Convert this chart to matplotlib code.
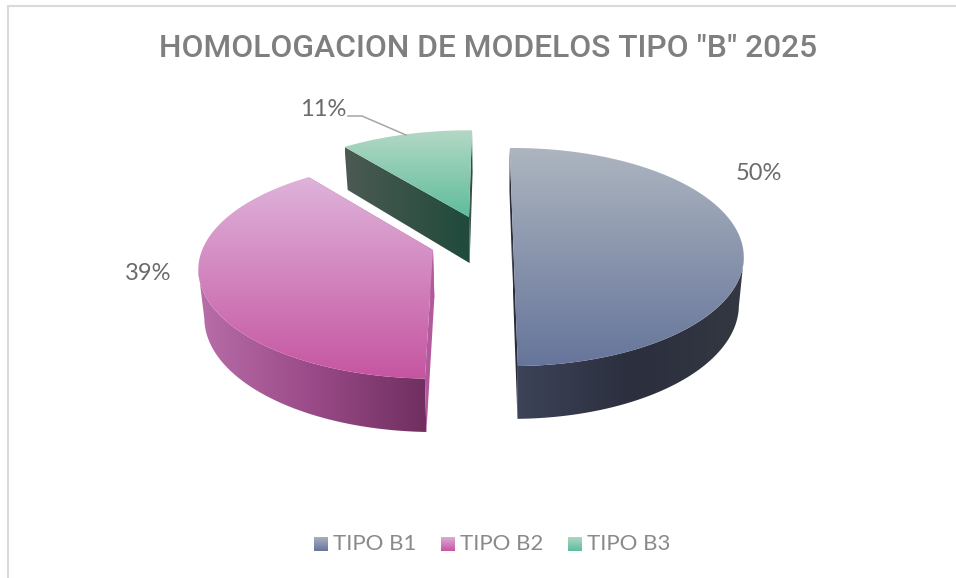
import numpy as np
import matplotlib
matplotlib.use("Agg")
import matplotlib.pyplot as plt
from matplotlib.colors import LinearSegmentedColormap
from matplotlib.patches import Polygon

# ---- data ----
categories = ["TIPO B1", "TIPO B2", "TIPO B3"]
values = [50, 39, 11]
title = 'HOMOLOGACION DE MODELOS TIPO "B" 2025'

# ---- layout / style ----
W, H = 956, 578
TOP_COLORS = [("#adb5c0", "#66759a"), ("#deb3da", "#c655a1"), ("#b4d8c5", "#5ebd9c")]
SIDE_COLORS = [("#3d4358", "#2b2f3e", "#343842"),
               ("#b86ea8", "#9a4a88", "#6f2f5f"),
               ("#4c5a52", "#3a4f47", "#1f4a3b")]
CUT_COLORS = [("#2a2e3b", "#2a2e3b"), ("#b35a9e", "#b35a9e"), ("#4c5a52", "#1f4a3b")]
APEX = [(513, 237.4), (433, 250), (469, 217)]
ROT = [-1.0, 1.65, 0.9]
SCALE = [(1.0, 1.0), (1.017, 1.0), (1.0, 0.97)]
K, A, B = 0.18, 227.0, 105.5
LABEL_POS = [(759, 174), (148, 274), (323, 110)]
LEGEND_X = [314, 441, 568]
GREY = "#7f7f7f"

fig = plt.figure(figsize=(W / 100, H / 100), dpi=100)
ax = fig.add_axes([0, 0, 1, 1])
ax.set_xlim(0, W)
ax.set_ylim(H, 0)
ax.set_autoscale_on(False)
ax.axis("off")


def project(theta, i):
    t = np.radians(theta)
    u, v = np.sin(t), np.cos(t)
    w = 1 + K * v
    ax0, ay0 = APEX[i]
    return np.column_stack((ax0 + A * SCALE[i][0] * u / w,
                            ay0 - B * SCALE[i][1] * v / w))


def lower(p):
    p = np.atleast_2d(p)
    return np.column_stack((500 + (p[:, 0] - 500) * 0.98,
                            p[:, 1] + 43 + (p[:, 1] - 148) * 0.045))


def fill(points, colors, vertical):
    points = np.asarray(points)
    x0, y0 = points.min(axis=0)
    x1, y1 = points.max(axis=0)
    ramp = np.linspace(0, 1, 256)
    grad = ramp[:, None] if vertical else ramp[None, :]
    cmap = LinearSegmentedColormap.from_list("g", list(colors))
    im = ax.imshow(grad, cmap=cmap, vmin=0, vmax=1, aspect="auto",
                   extent=(x0, x1 + 0.01, y1 + 0.01, y0), interpolation="bilinear",
                   origin="upper", zorder=2)
    patch = Polygon(points, closed=True, transform=ax.transData,
                    facecolor="none", edgecolor="none")
    ax.add_patch(patch)
    im.set_clip_path(patch)


edges = np.cumsum([0] + values) / sum(values) * 360
for i in [2, 1, 0]:
    th = np.linspace(edges[i] + ROT[i], edges[i + 1] + ROT[i], 160)
    arc = project(th, i)
    apex = np.array([APEX[i]], dtype=float)
    # outer wall: only the part of the rim that faces the viewer
    extreme = arc[np.argmax(np.abs(arc[:, 0] - apex[0, 0])), 1]
    front = arc[arc[:, 1] >= extreme]
    if len(front) > 2:
        fill(np.vstack((front, lower(front)[::-1])), SIDE_COLORS[i], vertical=False)
    # cut faces
    for end in (arc[:1], arc[-1:]):
        fill(np.vstack((apex, end, lower(end), lower(apex))), CUT_COLORS[i], vertical=False)
    # top face
    fill(np.vstack((apex, arc)), TOP_COLORS[i], vertical=True)

# frame
ax.plot([8, 8, W], [H, 6, 6], color="#d9d9d9", lw=1.5, zorder=1, solid_joinstyle="miter")

# title
ax.text(488, 48.5, title, ha="center", va="center", color=GREY, fontsize=22.9,
        family="Roboto", weight="medium")

# data labels
for v, (x, y) in zip(values, LABEL_POS):
    ax.text(x, y, f"{v}%", ha="center", va="center", color="#6b6b6b", fontsize=17,
            family="Lato", weight="normal")
ax.plot([348, 362, 406], [116, 116, 135], color="#a6a6a6", lw=1.1, zorder=3)

# legend
for i, name in enumerate(categories):
    x = LEGEND_X[i]
    fill([(x, 537), (x + 14, 537), (x + 14, 551), (x, 551)], TOP_COLORS[i], vertical=True)
    ax.text(x + 19, 544, name, ha="left", va="center", color="#8a8a8a", fontsize=16,
            family="Lato", weight="normal")

ax.set_xlim(0, W)
ax.set_ylim(H, 0)
fig.savefig("out.png", dpi=100, facecolor="white")
